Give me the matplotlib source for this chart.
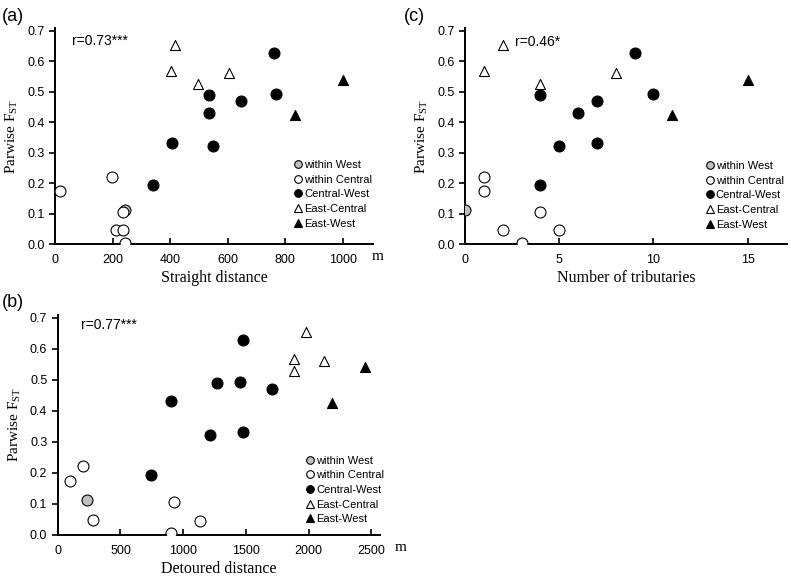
import matplotlib
matplotlib.use('Agg')
import matplotlib.pyplot as plt

plt.rcParams['font.family'] = 'Liberation Sans'
plt.rcParams['mathtext.fontset'] = 'custom'
plt.rcParams['mathtext.rm'] = 'Liberation Serif'

# pairwise FST values per group (same order in every panel)
fst_within_west = [0.113]
fst_within_central = [0.175, 0.221, 0.048, 0.046, 0.005, 0.106]
fst_central_west = [0.193, 0.333, 0.491, 0.431, 0.323, 0.470, 0.629, 0.493]
fst_east_central = [0.653, 0.567, 0.527, 0.562]
fst_east_west = [0.424, 0.540]

# (a) straight distance
straight_within_west = [243]
straight_within_central = [17, 199, 211, 235, 243, 237]
straight_central_west = [342, 408, 536, 536, 550, 645, 759, 766]
straight_east_central = [417, 402, 498, 604]
straight_east_west = [833, 999]

# (b) detoured distance
detour_within_west = [234]
detour_within_central = [101, 199, 282, 1133, 899, 926]
detour_central_west = [745, 1479, 1266, 899, 1210, 1705, 1479, 1450]
detour_east_central = [1976, 1886, 1886, 2125]
detour_east_west = [2189, 2447]

# (c) number of tributaries
trib_within_west = [0]
trib_within_central = [1, 1, 2, 5, 3, 4]
trib_central_west = [4, 7, 4, 6, 5, 7, 9, 10]
trib_east_central = [2, 1, 4, 8]
trib_east_west = [11, 15]

group_labels = ['within West', 'within Central', 'Central-West', 'East-Central', 'East-West']


def draw_panel(ax, xs, xlim, xticks, xlabel, rtext, rpos, legpos, unitpos=None):
    ms = 62
    ax.scatter(xs[0], fst_within_west, s=ms, marker='o', facecolor='#c0c0c0', edgecolor='black', linewidth=0.8, zorder=3)
    ax.scatter(xs[1], fst_within_central, s=ms, marker='o', facecolor='white', edgecolor='black', linewidth=0.8, zorder=3)
    ax.scatter(xs[2], fst_central_west, s=ms, marker='o', facecolor='black', edgecolor='black', linewidth=0.8, zorder=3)
    ax.scatter(xs[3], fst_east_central, s=52, marker='^', facecolor='white', edgecolor='black', linewidth=0.8, zorder=3)
    ax.scatter(xs[4], fst_east_west, s=52, marker='^', facecolor='black', edgecolor='black', linewidth=0.8, zorder=3)

    ax.set_xlim(*xlim)
    ax.set_ylim(0, 0.71)
    ax.set_xticks(xticks)
    ax.set_yticks([0, 0.1, 0.2, 0.3, 0.4, 0.5, 0.6, 0.7])
    ax.set_yticklabels(['%.1f' % v for v in [0, 0.1, 0.2, 0.3, 0.4, 0.5, 0.6, 0.7]])
    ax.tick_params(axis='x', direction='in', length=4, width=1.2, labelsize=9, pad=7)
    ax.tick_params(axis='y', direction='out', length=4, width=1.2, labelsize=9)
    for s in ['top', 'right']:
        ax.spines[s].set_visible(False)
    for s in ['left', 'bottom']:
        ax.spines[s].set_linewidth(1.4)

    ax.set_xlabel(xlabel, family='Liberation Serif', fontsize=11.5, labelpad=3)
    ax.set_ylabel(r'Parwise F$_{\mathrm{ST}}$', family='Liberation Serif', fontsize=11, labelpad=5)
    ax.text(rpos[0], rpos[1], rtext, transform=ax.transAxes, fontsize=10, va='center')
    if unitpos:
        ax.text(unitpos, -0.058, 'm', transform=ax.transAxes, family='Liberation Serif', fontsize=11, va='center', ha='left')

    handles = [
        plt.Line2D([], [], marker='o', ls='', ms=5.5, mfc='#c0c0c0', mec='black', mew=0.8),
        plt.Line2D([], [], marker='o', ls='', ms=5.5, mfc='white', mec='black', mew=0.8),
        plt.Line2D([], [], marker='o', ls='', ms=5.5, mfc='black', mec='black', mew=0.8),
        plt.Line2D([], [], marker='^', ls='', ms=5.5, mfc='white', mec='black', mew=0.8),
        plt.Line2D([], [], marker='^', ls='', ms=5.5, mfc='black', mec='black', mew=0.8),
    ]
    ax.legend(handles, group_labels, loc='upper left', bbox_to_anchor=legpos, frameon=False,
              fontsize=8, handlelength=0.7, handletextpad=0.2, labelspacing=0.42, borderpad=0)


fig = plt.figure(figsize=(7.91, 5.80), dpi=100)
ax_a = fig.add_axes([0.0695, 0.579, 0.402, 0.373])
ax_c = fig.add_axes([0.588, 0.579, 0.407, 0.373])
ax_b = fig.add_axes([0.073, 0.0776, 0.407, 0.380])

draw_panel(ax_a, [straight_within_west, straight_within_central, straight_central_west, straight_east_central, straight_east_west],
           (0, 1104), [0, 200, 400, 600, 800, 1000], 'Straight distance', 'r=0.73***', (0.055, 0.94), (0.735, 0.415), unitpos=0.995)
draw_panel(ax_b, [detour_within_west, detour_within_central, detour_central_west, detour_east_central, detour_east_west],
           (0, 2566), [0, 500, 1000, 1500, 2000, 2500], 'Detoured distance', 'r=0.77***', (0.072, 0.955), (0.755, 0.385), unitpos=1.045)
draw_panel(ax_c, [trib_within_west, trib_within_central, trib_central_west, trib_east_central, trib_east_west],
           (0, 17.1), [0, 5, 10, 15], 'Number of tributaries', 'r=0.46*', (0.155, 0.935), (0.73, 0.41))

fig.text(0.003, 0.972, '(a)', fontsize=13, va='center')
fig.text(0.003, 0.478, '(b)', fontsize=13, va='center')
fig.text(0.51, 0.972, '(c)', fontsize=13, va='center')

plt.savefig('out.png', dpi=100)
plt.close()
